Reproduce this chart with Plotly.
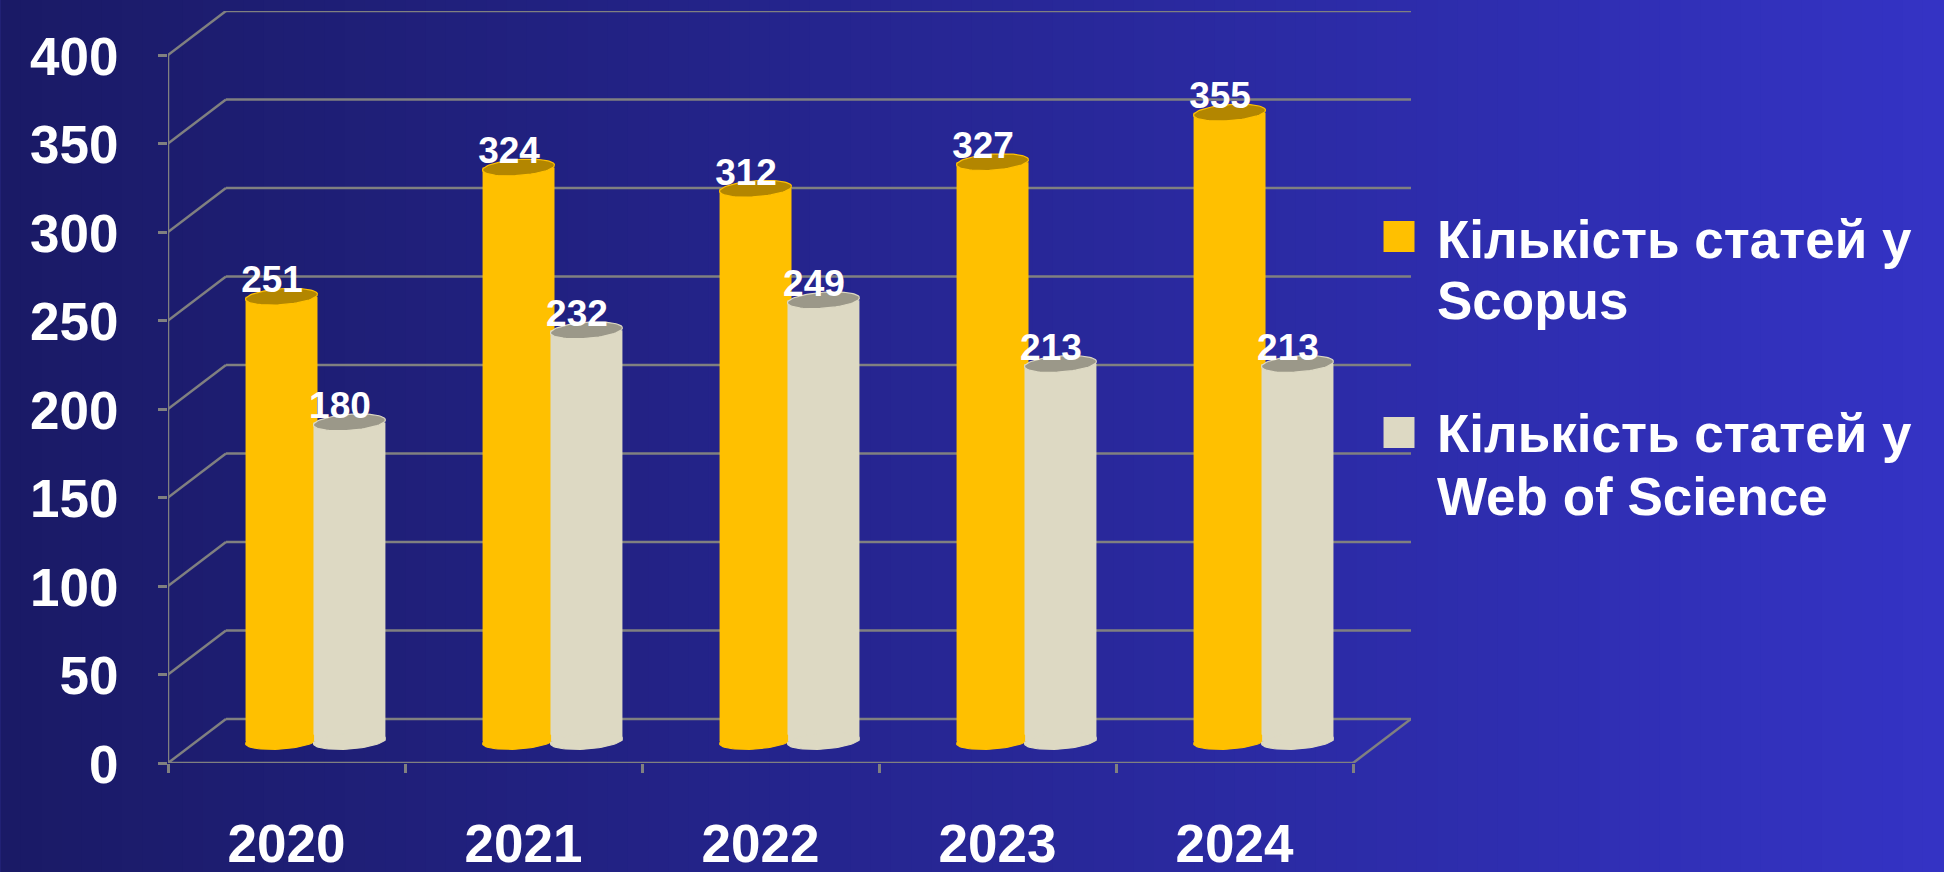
import numpy as np
import plotly.graph_objects as go

# ---- data ----
years = ["2020", "2021", "2022", "2023", "2024"]
scopus = [251, 324, 312, 327, 355]
wos = [180, 232, 249, 213, 213]
y_ticks = [0, 50, 100, 150, 200, 250, 300, 350, 400]
legend_scopus = ["Кількість статей у", "Scopus"]
legend_wos = ["Кількість статей у", "Web of Science"]

# ---- style ----
W, H = 1944, 872
FONT = "Liberation Sans"
COL_S, COL_W = "#FFC000", "#DDD9C3"
TOP_S, TOP_W = "#B38600", "#9B9889"
GRID = "#808080"

# plot frame in page pixels
X0, X1 = 167.5, 1353.5      # front plane of the category axis
Y0, Y400 = 763.0, 55.0      # front plane of the value axis
DX_PX, DY_PX = 58.0, 44.0   # depth of the pseudo-3D box
PX_X = (X1 - X0) / len(years)
PX_Y = (Y0 - Y400) / 400.0
dx, dy = DX_PX / PX_X, DY_PX / PX_Y
x_max = len(years) + dx
y_max = 400 + dy

bar_w = 72.0 / PX_X
gap = 0.1433
n = np.arange(len(years))
x_s = n + 0.5 + dx / 2 - gap
x_w = n + 0.5 + dx / 2 + gap
base = dy / 2


def ellipses(xc, levels, clip=None):
    t = np.linspace(0, 2 * np.pi, 73)
    a, b, tilt = bar_w / 2, 8.0 / PX_Y, 2.5 / PX_Y
    xs, ys = [], []
    for cx, lv in zip(xc, levels):
        ex = cx + a * np.cos(t)
        ey = lv + tilt * np.cos(t) + b * np.sin(t)
        if clip is not None:
            ex = np.minimum(ex, cx + clip)
        xs += list(ex) + [None]
        ys += list(ey) + [None]
    return xs, ys


fig = go.Figure()
fig.add_bar(x=x_s, y=scopus, base=base, width=bar_w, marker=dict(color=COL_S, line_width=0),
            name="Кількість статей у Scopus", hoverinfo="skip", showlegend=False)
fig.add_bar(x=x_w, y=wos, base=base, width=bar_w, marker=dict(color=COL_W, line_width=0),
            name="Кількість статей у Web of Science", hoverinfo="skip", showlegend=False)


def blob(xc, lv, fill, line, clip=None):
    xs, ys = ellipses(xc, lv, clip)
    fig.add_scatter(x=xs, y=ys, mode="lines", fill="toself", fillcolor=fill,
                    line=dict(color=line, width=1.2), hoverinfo="skip",
                    showlegend=False, cliponaxis=False)


levels_s = [v + base for v in scopus]
levels_w = [v + base for v in wos]
blob(x_s, [base] * len(years), COL_S, COL_S, clip=2 * gap - bar_w / 2)
blob(x_w, [base] * len(years), COL_W, COL_W)
blob(x_s, levels_s, TOP_S, COL_S)
blob(x_w, levels_w, TOP_W, COL_W)

lab_dx, lab_dy = -9.5 / PX_X, 13.5 / PX_Y
for xc, lv, vals in ((x_s, levels_s, scopus), (x_w, levels_w, wos)):
    fig.add_scatter(x=xc + lab_dx, y=[l + lab_dy for l in lv], text=[str(v) for v in vals],
                    mode="text", textposition="middle center",
                    textfont=dict(family=FONT, size=37, color="white", weight="bold"),
                    hoverinfo="skip", showlegend=False, cliponaxis=False)

shapes = []
# horizontal background gradient
steps = 96
c_left, c_right = np.array([26, 26, 102]), np.array([52, 51, 196])
for i in range(steps):
    f = (i + 0.5) / steps
    c = c_left + (c_right - c_left) * f
    shapes.append(dict(type="rect", xref="paper", yref="paper", layer="below",
                       x0=(-X0 + i * W / steps) / (X1 + DX_PX - X0),
                       x1=(-X0 + (i + 1) * W / steps + 1) / (X1 + DX_PX - X0),
                       y0=-(H - Y0) / (Y0 - 11), y1=1 + 11 / (Y0 - 11),
                       line_width=0,
                       fillcolor="rgb(%d,%d,%d)" % tuple(c.round().astype(int))))


def seg(xa, ya, xb, yb):
    shapes.append(dict(type="line", xref="x", yref="y", layer="below", x0=xa, y0=ya, x1=xb, y1=yb,
                       line=dict(color=GRID, width=2.5)))


for v in y_ticks:
    seg(0, v, dx, v + dy)
    seg(dx, v + dy, x_max, v + dy)
seg(0, 0, 0, 400)
seg(0, 0, len(years), 0)
seg(len(years), 0, x_max, dy)

# legend swatches (page pixels mapped onto paper)
def px(v):
    return (v - X0) / (X1 + DX_PX - X0)


def py(v):
    return (Y0 - v) / (Y0 - 11)


for top, col in ((221, COL_S), (417, COL_W)):
    shapes.append(dict(type="rect", xref="paper", yref="paper", layer="above",
                       x0=px(1384), x1=px(1415), y0=py(top), y1=py(top + 31),
                       line_width=0, fillcolor=col))

annotations = []
for line, yc in zip(legend_scopus + legend_wos, (239, 301, 433, 497)):
    annotations.append(dict(text=line, xref="paper", yref="paper", x=px(1436), y=py(yc),
                            xanchor="left", yanchor="middle", showarrow=False,
                            font=dict(family=FONT, size=53, color="white", weight="bold")))

fig.update_layout(
    width=W, height=H, autosize=False,
    margin=dict(l=X0, r=W - (X1 + DX_PX), t=11, b=H - Y0, pad=0),
    paper_bgcolor="#26267F", plot_bgcolor="rgba(0,0,0,0)",
    barmode="overlay", showlegend=False, hovermode=False,
    shapes=shapes, annotations=annotations,
    xaxis=dict(range=[0, x_max], tickmode="array", tickvals=list(n + 0.5), ticktext=years,
               ticks="", showgrid=False, zeroline=False, showline=False, automargin=False,
               ticklabelstandoff=45,
               tickfont=dict(family=FONT, size=53, color="white", weight="bold"),
               minor=dict(tickmode="array", tickvals=list(range(len(years) + 1)), ticks="outside",
                          ticklen=9, tickwidth=2.5, tickcolor=GRID, showgrid=False)),
    yaxis=dict(range=[0, y_max], tickmode="array", tickvals=y_ticks, ticks="outside", ticklen=9,
               tickwidth=2.5, tickcolor=GRID, showgrid=False, zeroline=False, showline=False,
               automargin=False, ticklabelstandoff=29, ticklabelshift=1,
               tickfont=dict(family=FONT, size=53, color="white", weight="bold")),
)

fig.write_html("out.html", config={"displayModeBar": False},
               post_script="document.body.style.margin='0';document.body.style.overflow='hidden';")
